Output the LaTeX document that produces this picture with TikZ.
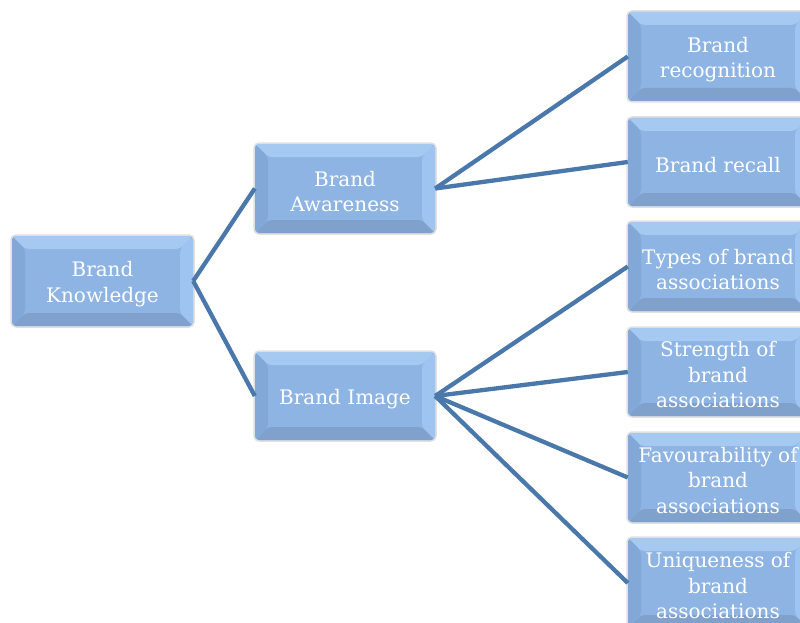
\documentclass[tikz,border=0pt]{standalone}
\usepackage{fontspec}
\newfontfamily\bevelfont{DejaVu Serif}
\definecolor{midc}{HTML}{8EB4E3}
\definecolor{topc}{HTML}{A6C9F1}
\definecolor{rightc}{HTML}{9EC4F2}
\definecolor{leftc}{HTML}{82A8D8}
\definecolor{botc}{HTML}{7FA1CC}
\definecolor{linkc}{RGB}{74,120,170}
\tikzset{
  bevel/.style={minimum width=180pt, minimum height=89pt, inner sep=0pt,
    rounded corners=4pt, fill=midc,
    preaction={draw=black!12, line width=3.5pt},
    path picture={
      \fill[topc] (path picture bounding box.north west) -- (path picture bounding box.north east)
        -- ([shift={(-13pt,-13pt)}]path picture bounding box.north east)
        -- ([shift={(13pt,-13pt)}]path picture bounding box.north west) -- cycle;
      \fill[botc] (path picture bounding box.south west) -- (path picture bounding box.south east)
        -- ([shift={(-13pt,13pt)}]path picture bounding box.south east)
        -- ([shift={(13pt,13pt)}]path picture bounding box.south west) -- cycle;
      \fill[leftc] (path picture bounding box.north west) -- (path picture bounding box.south west)
        -- ([shift={(13pt,13pt)}]path picture bounding box.south west)
        -- ([shift={(13pt,-13pt)}]path picture bounding box.north west) -- cycle;
      \fill[rightc] (path picture bounding box.north east) -- (path picture bounding box.south east)
        -- ([shift={(-13pt,13pt)}]path picture bounding box.south east)
        -- ([shift={(-13pt,-13pt)}]path picture bounding box.north east) -- cycle;
    }},
  txt/.style={align=center, inner sep=0pt, text=white,
    font={\bevelfont\fontsize{20}{25.5}\selectfont}},
  link/.style={draw=linkc, line width=4.3pt}
}
\begin{document}
\begin{tikzpicture}[x=1pt,y=-1pt]
\useasboundingbox (0,0) rectangle (800,623);
\begin{scope}
\clip (0,0) rectangle (800,623);
\node[bevel, minimum width=181pt, minimum height=90pt] (k) at (102.5,281) {};
\node[bevel] (aw) at (345,188.5) {};
\node[bevel, minimum height=88pt] (im) at (345,396) {};
\node[bevel] (r1) at (718,56.5) {};
\node[bevel, minimum height=88pt] (r2) at (718,162) {};
\node[bevel] (r3) at (718,266.5) {};
\node[bevel, minimum height=88pt] (r4) at (718,372) {};
\node[bevel] (r5) at (718,477.5) {};
\node[bevel, minimum height=90pt] (r6) at (718,583) {};
\node[txt] (kt) at ([yshift=-3pt]k.center) {Brand\\Knowledge};
\node[txt] (awt) at ([yshift=-3pt]aw.center) {Brand\\Awareness};
\node[txt] (imt) at ([yshift=-3pt]im.center) {Brand Image};
\node[txt] (r1t) at ([yshift=-3pt]r1.center) {Brand\\recognition};
\node[txt] (r2t) at ([yshift=-3pt]r2.center) {Brand recall};
\node[txt] (r3t) at ([yshift=-3pt]r3.center) {Types of brand\\associations};
\node[txt] (r4t) at ([yshift=-3pt]r4.center) {Strength of\\brand\\associations};
\node[txt] (r5t) at ([yshift=-3pt]r5.center) {Favourability of\\brand\\associations};
\node[txt] (r6t) at ([yshift=-3pt]r6.center) {Uniqueness of\\brand\\associations};
\draw[link] (k.east) -- (aw.west);
\draw[link] (k.east) -- (im.west);
\draw[link] (aw.east) -- (r1.west);
\draw[link] (aw.east) -- (r2.west);
\draw[link] (im.east) -- (r3.west);
\draw[link] (im.east) -- (r4.west);
\draw[link] (im.east) -- (r5.west);
\draw[link] (im.east) -- (r6.west);
\end{scope}
\end{tikzpicture}
\end{document}
